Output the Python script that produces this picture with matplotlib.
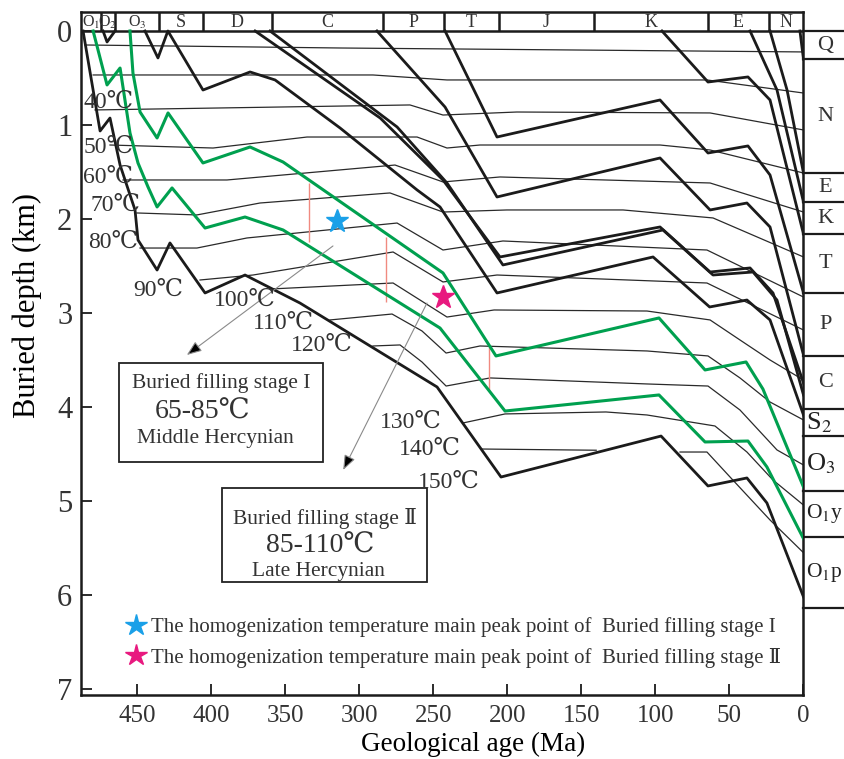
import matplotlib
matplotlib.use('Agg')
import matplotlib.pyplot as plt
from matplotlib.lines import Line2D
from matplotlib.patches import Rectangle

plt.rcParams['font.family'] = ['Liberation Serif', 'DejaVu Serif', 'Noto Sans CJK SC']
plt.rcParams['mathtext.fontset'] = 'stix'

# ---------------- data: (age Ma, depth km) ----------------
burial_O1p = [(486.6, 0), (475.1, 1.064), (468.4, 0.926), (461.6, 1.426), (451.5, 1.904),
              (449.5, 2.223), (436.6, 2.543), (427.9, 2.255), (404.2, 2.787), (377.2, 2.596),
              (340.1, 2.894), (247.5, 3.787), (204.3, 4.745), (96.2, 4.309), (64.5, 4.840),
              (38.2, 4.755), (24.7, 5.021), (0, 6.02)]
burial_O2 = [(473.1, 0), (470.4, 0.117), (465.0, 0)]
burial_S = [(444.8, 0), (436.0, 0.287), (429.3, 0), (405.6, 0.628), (373.8, 0.436), (356.9, 0.521),
            (313.0, 1.032), (261.0, 1.691), (245.5, 1.872), (207.0, 2.787), (101.6, 2.404),
            (63.4, 2.936), (38.2, 2.862), (22.6, 3.074), (0, 4.085)]
burial_C1 = [(370.4, 0), (285.9, 0.926), (243.5, 1.585), (205.0, 2.404), (96.9, 2.085),
             (63.1, 2.564), (36.1, 2.521), (20.6, 2.787), (0, 3.745)]
burial_C2 = [(360.3, 0), (274.5, 1.021), (240.8, 1.617), (203.0, 2.489), (94.9, 2.117),
             (61.1, 2.596), (34.1, 2.564), (17.9, 2.862), (0, 3.872)]
burial_P = [(288.1, 0), (242.1, 0.809), (207.0, 1.766), (96.9, 1.351), (63.1, 1.904),
            (38.2, 1.830), (22.6, 2.085), (0, 3.447)]
burial_T = [(242.1, 0), (207.0, 1.128), (96.9, 0.734), (64.5, 1.298), (37.5, 1.223),
            (22.6, 1.532), (0, 2.787)]
burial_K = [(95.6, 0), (64.5, 0.543), (37.5, 0.489), (22.6, 0.734), (0, 2.16)]
burial_E = [(36.1, 0), (17.9, 0.628), (0, 1.82)]
burial_N = [(22.6, 0), (11.1, 0.628), (0, 1.51)]
burial_Q = [(2.4, 0), (0, 0.30)]

green_O3 = [(454.9, 0), (452.9, 0.447), (448.1, 0.862), (436.6, 1.138), (429.2, 0.872),
            (405.6, 1.404), (373.8, 1.234), (351.5, 1.394), (243.5, 2.574), (207.7, 3.457),
            (97.6, 3.053), (66.5, 3.606), (38.8, 3.521), (27.4, 3.809), (0, 4.851)]
green_O1y = [(479.8, 0), (470.4, 0.574), (461.6, 0.394), (454.9, 1.085), (449.5, 1.404),
             (442.7, 1.660), (436.6, 1.872), (426.5, 1.670), (404.2, 2.096), (377.2, 1.979),
             (351.5, 2.117), (245.5, 3.160), (201.6, 4.043), (97.6, 3.872), (66.5, 4.372),
             (37.5, 4.362), (24.7, 4.638), (0, 5.40)]

iso_20 = [(485.3, 0.149), (313.0, 0.181), (0, 0.223)]
iso_30 = [(479.8, 0.468), (290.8, 0.468), (240.8, 0.521), (65.2, 0.521), (0, 0.660)]
iso_40 = [(478.5, 0.840), (265.8, 0.787), (243.5, 0.894), (193.6, 0.862), (63.1, 0.872), (0, 1.053)]
iso_50 = [(468.4, 1.213), (398.8, 1.245), (335.3, 1.128), (261.0, 1.128), (240.8, 1.245),
          (218.5, 1.213), (96.9, 1.213), (63.1, 1.266), (0, 1.511)]
iso_60 = [(459.6, 1.585), (389.4, 1.585), (275.9, 1.426), (243.5, 1.606), (205.0, 1.553),
          (63.1, 1.617), (0, 1.926)]
iso_70 = [(450.2, 1.936), (409.7, 1.957), (367.1, 1.830), (279.3, 1.723), (243.5, 1.926),
          (200.3, 1.904), (121.9, 1.904), (61.1, 1.989), (0, 2.404)]
iso_80 = [(448.1, 2.309), (409.7, 2.309), (375.9, 2.202), (274.5, 2.043), (243.5, 2.330),
          (203.0, 2.234), (65.2, 2.330), (0, 2.830)]
iso_90 = [(407.6, 2.649), (371.8, 2.596), (277.2, 2.351), (243.5, 2.670), (207.0, 2.596),
          (65.2, 2.681), (0, 3.181)]
iso_100 = [(360.3, 2.745), (277.2, 2.681), (259.0, 2.862), (240.8, 3.043), (209.0, 2.968),
           (105.7, 2.979), (63.1, 3.074), (42.9, 3.287), (22.6, 3.500), (0, 3.713)]
iso_110 = [(319.8, 3.074), (277.9, 3.011), (257.7, 3.191), (241.4, 3.426), (218.5, 3.351),
           (105.7, 3.404), (64.5, 3.457), (42.9, 3.691), (22.6, 3.947), (0, 4.138)]
iso_120 = [(290.8, 3.351), (272.5, 3.340), (257.7, 3.521), (241.4, 3.777), (211.7, 3.691),
           (105.7, 3.755), (64.5, 3.777), (42.9, 4.032), (17.9, 4.457), (0, 4.617)]
iso_130 = [(230.0, 4.170), (201.6, 4.074), (133.4, 4.053), (105.7, 4.085), (59.8, 4.202),
           (38.2, 4.479), (20.6, 4.777), (0, 5.043)]
iso_140a = [(218.0, 4.447), (140.0, 4.460)]
iso_140b = [(83.4, 4.479), (65.2, 4.479), (49.6, 4.745), (22.6, 5.202), (0, 5.55)]

iso_labels = ['40℃', '50℃', '60℃', '70℃', '80℃', '90℃', '100℃', '110℃', '120℃',
              '130℃', '140℃', '150℃']
iso_label_age = [469.6, 469.6, 469.6, 465.0, 466.4, 436.0, 377.2, 351.5, 325.2, 265.1, 252.3, 239.5]
iso_label_depth = [0.755, 1.234, 1.553, 1.851, 2.245, 2.755, 2.862, 3.106, 3.340, 4.16, 4.447, 4.80]

red_age = [334.3, 282.0, 212.4]
red_top = [1.617, 2.191, 3.351]
red_bottom = [2.245, 2.883, 3.830]

star1 = (315.1, 2.021)
star2 = (243.5, 2.83)

period_bounds = [488.2, 474.7, 465.0, 435.5, 405.8, 359.0, 284.2, 242.6, 205.7, 141.5, 64.7, 23.3, 0]
period_names = ['O$_1$', 'O$_2$', 'O$_3$', 'S', 'D', 'C', 'P', 'T', 'J', 'K', 'E', 'N']

column_bounds = [0, 0.30, 1.51, 1.82, 2.16, 2.79, 3.46, 4.02, 4.31, 4.89, 5.38, 6.14]
column_names = ['Q', 'N', 'E', 'K', 'T', 'P', 'C', 'S$_2$', 'O$_3$', 'O$_1$y', 'O$_1$p']

# ---------------- figure ----------------
fig = plt.figure(figsize=(8.44, 7.59), dpi=100)
ax = fig.add_axes([0.0956, 0.0843, 0.8564, 0.8999])
ax.set_xlim(488.2, 0)
ax.set_ylim(7.064, -0.202)

BLACK = '#1b1b1b'
GREEN = '#00a04f'
TXT = '#333333'

def xy(c):
    return [p[0] for p in c], [p[1] for p in c]

for c in [iso_20, iso_30, iso_40, iso_50, iso_60, iso_70, iso_80, iso_90, iso_100,
          iso_110, iso_120, iso_130, iso_140a, iso_140b]:
    ax.plot(*xy(c), color='#2a2a2a', lw=0.9, zorder=2)

for c in [burial_O1p, burial_O2, burial_S, burial_C1, burial_C2, burial_P, burial_T,
          burial_K, burial_E, burial_N, burial_Q]:
    ax.plot(*xy(c), color=BLACK, lw=2.0, zorder=3)

for c in [green_O3, green_O1y]:
    ax.plot(*xy(c), color=GREEN, lw=2.2, zorder=4)

ax.vlines(red_age, red_top, red_bottom, color='#f08a80', lw=1.0, zorder=2)

for lab, a, d in zip(iso_labels, iso_label_age, iso_label_depth):
    ax.text(a, d, lab, fontsize=17, ha='center', va='center', color=TXT, zorder=8)

ax.plot(*star1, marker='*', ms=17, color='#1aa0e8', ls='none', zorder=7)
ax.plot(*star2, marker='*', ms=17, color='#e8197f', ls='none', zorder=7)

# arrows
ax.annotate('', xy=(416.5, 3.447), xytext=(317.8, 2.287),
            arrowprops=dict(arrowstyle='-|>,head_length=0.9,head_width=0.35', fc='black',
                            ec='#8a8a8a', lw=0.8, shrinkA=0, shrinkB=0), zorder=5)
ax.annotate('', xy=(310.9, 4.670), xytext=(254.3, 2.894),
            arrowprops=dict(arrowstyle='-|>,head_length=0.9,head_width=0.35', fc='black',
                            ec='#8a8a8a', lw=0.8, shrinkA=0, shrinkB=0), zorder=5)

# boxes
ax.add_patch(Rectangle((462.3, 3.532), 324.5 - 462.3, 4.585 - 3.532, fill=True, fc='white',
                       ec='#222222', lw=1.3, zorder=6))
ax.text(393.5, 3.75, 'Buried filling stage I', fontsize=15.5, ha='center', va='center',
        color=TXT, zorder=7)
ax.text(405.6, 4.05, '65-85℃', fontsize=20, ha='center', va='center', color=TXT, zorder=7)
ax.text(397.5, 4.34, 'Middle Hercynian', fontsize=15.5, ha='center', va='center',
        color=TXT, zorder=7)

ax.add_patch(Rectangle((392.7, 4.86), 254.3 - 392.7, 5.86 - 4.86, fill=True, fc='white',
                       ec='#222222', lw=1.3, zorder=6))
ax.text(323.2, 5.19, 'Buried filling stage Ⅱ', fontsize=15.5, ha='center', va='center',
        color=TXT, zorder=7)
ax.text(326.5, 5.48, '85-110℃', fontsize=20, ha='center', va='center', color=TXT, zorder=7)
ax.text(327.9, 5.75, 'Late Hercynian', fontsize=15.5, ha='center', va='center',
        color=TXT, zorder=7)

# top period strip
ax.axhline(0, color=BLACK, lw=1.8, zorder=3)
ax.vlines(period_bounds[1:-1], -0.202, 0, color=BLACK, lw=1.8, zorder=3)
for i, name in enumerate(period_names):
    mid = 0.5 * (period_bounds[i] + period_bounds[i + 1])
    fs = 11.5 if name.startswith('O') else 13
    ax.text(mid, -0.095, name, fontsize=fs, ha='center', va='center', color=TXT)

# right stratigraphic column
ytr = ax.get_yaxis_transform()
for b in column_bounds:
    ax.plot([1.0, 1.2], [b, b], transform=ytr, color=BLACK, lw=1.6, clip_on=False)
for i, name in enumerate(column_names):
    mid = 0.5 * (column_bounds[i] + column_bounds[i + 1])
    if len(name) <= 1:
        ax.text(1.03, mid, name, transform=ytr, fontsize=16, ha='center', va='center',
                color=TXT, clip_on=False)
    else:
        fs = 15.5 if 'O$_1$' in name else 19
        ax.text(1.004, mid, name, transform=ytr, fontsize=fs, ha='left', va='center',
                color='#222222', clip_on=False)

# legend
handles = [Line2D([], [], ls='none', marker='*', ms=16, color='#1aa0e8'),
           Line2D([], [], ls='none', marker='*', ms=16, color='#e8197f')]
labels = ['The homogenization temperature main peak point of  Buried filling stage I',
          'The homogenization temperature main peak point of  Buried filling stage Ⅱ']
ax.legend(handles, labels, loc='center left', bbox_to_anchor=(0.064, 0.077), frameon=False,
          fontsize=15, handlelength=0.9, handletextpad=0.25, labelspacing=0.5,
          borderpad=0, borderaxespad=0, labelcolor=TXT)

# axes styling
for s in ax.spines.values():
    s.set_linewidth(1.8)
    s.set_color(BLACK)
ax.set_xticks(range(0, 451, 50))
ax.set_yticks(range(0, 8))
ax.tick_params(direction='in', length=8, width=1.3, colors=BLACK)
ax.tick_params(axis='y', labelsize=22, pad=6)
ax.tick_params(axis='x', labelsize=18, pad=7)
for t in ax.get_xticklabels() + ax.get_yticklabels():
    t.set_color(TXT)
ax.set_xlabel('Geological age (Ma)', fontsize=19.5)
ax.set_ylabel('Buried depth (km)', fontsize=22)
ax.xaxis.set_label_coords(0.543, -0.0545)
ax.yaxis.set_label_coords(-0.054, 0.57)

fig.savefig('out.png', dpi=100)
